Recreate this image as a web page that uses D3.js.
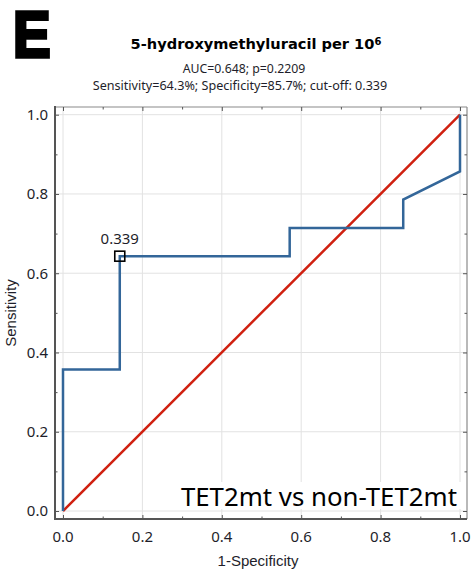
<!DOCTYPE html>
<html>
<head>
<meta charset="utf-8">
<script src="https://cdn.jsdelivr.net/npm/d3@7"></script>
<style>
  html, body { margin: 0; padding: 0; background: #fff; }
  svg { display: block; }
</style>
</head>
<body>
<svg id="chart" width="473" height="571"></svg>
<script>
// ROC curve points (1-Specificity, Sensitivity)
const rocFpr = [0, 0, 0.143, 0.143, 0.571, 0.571, 0.857, 0.857, 1, 1];
const rocTpr = [0, 0.357, 0.357, 0.643, 0.643, 0.714, 0.714, 0.786, 0.857, 1];
// Reference (chance) line
const refFpr = [0, 1];
const refTpr = [0, 1];
// Optimal cut-off point
const cutFpr = [0.143];
const cutTpr = [0.643];
const cutLabels = ["0.339"];
// Axis ticks
const majorTicks = [0, 0.2, 0.4, 0.6, 0.8, 1.0];
const minorTicks = [0.1, 0.3, 0.5, 0.7, 0.9];
const tickLabels = ["0.0", "0.2", "0.4", "0.6", "0.8", "1.0"];

const svg = d3.select("#chart");
const frame = { left: 55, right: 467, top: 107, bottom: 519 };

const x = d3.scaleLinear().domain([0, 1]).range([63, 460]);
const y = d3.scaleLinear().domain([0, 1]).range([511, 114.7]);

const textCol = "#1e1e2a";

// Panel letter
svg.append("text")
  .attr("transform", "translate(13,57) scale(0.88,1)")
  .attr("font-family", "Liberation Sans, Arial, sans-serif")
  .attr("font-weight", "bold").attr("font-size", 64)
  .attr("fill", "#000").attr("stroke", "#000").attr("stroke-width", 3.5)
  .text("E");

// Title with superscript
const title = svg.append("text")
  .attr("x", 256).attr("y", 49)
  .attr("text-anchor", "middle")
  .attr("font-family", "DejaVu Sans, Verdana, sans-serif")
  .attr("font-weight", "bold").attr("font-size", 14.6)
  .attr("fill", "#000");
title.append("tspan").text("5-hydroxymethyluracil per 10");
title.append("tspan").attr("font-size", 10).attr("dy", -4).text("6");

svg.append("text")
  .attr("x", 244).attr("y", 73)
  .attr("text-anchor", "middle")
  .attr("font-family", "Noto Sans, sans-serif").attr("font-size", 12.3)
  .attr("fill", textCol)
  .text("AUC=0.648; p=0.2209");
svg.append("text")
  .attr("x", 240).attr("y", 90)
  .attr("text-anchor", "middle")
  .attr("font-family", "Noto Sans, sans-serif").attr("font-size", 12.6)
  .attr("fill", textCol)
  .text("Sensitivity=64.3%; Specificity=85.7%; cut-off: 0.339");

// Grid
const grid = svg.append("g").attr("stroke", "#e2e2e2").attr("stroke-width", 1);
grid.selectAll("line.gx").data(majorTicks).join("line")
  .attr("x1", d => x(d)).attr("x2", d => x(d))
  .attr("y1", frame.top).attr("y2", frame.bottom);
grid.selectAll("line.gy").data(majorTicks).join("line")
  .attr("y1", d => y(d)).attr("y2", d => y(d))
  .attr("x1", frame.left).attr("x2", frame.right);

// Frame: light top/right, dark left/bottom axes
svg.append("line").attr("x1", frame.left).attr("x2", frame.right)
  .attr("y1", frame.top).attr("y2", frame.top)
  .attr("stroke", "#8a8a8a").attr("stroke-width", 1.2);
svg.append("line").attr("x1", frame.right).attr("x2", frame.right)
  .attr("y1", frame.top).attr("y2", frame.bottom)
  .attr("stroke", "#8a8a8a").attr("stroke-width", 1.2);

// Inward ticks via d3 axes
function tickAxis(axisFn, scale, vals, size, transform) {
  const g = svg.append("g").attr("transform", transform)
    .call(axisFn(scale).tickValues(vals).tickSize(size).tickFormat(""));
  g.select(".domain").remove();
  g.selectAll(".tick line").attr("stroke", "#555").attr("stroke-width", 1);
  return g;
}
tickAxis(d3.axisTop, x, majorTicks, -4, `translate(0,${frame.top})`);
tickAxis(d3.axisTop, x, minorTicks, -2.5, `translate(0,${frame.top})`);
tickAxis(d3.axisBottom, x, majorTicks, -4, `translate(0,${frame.bottom})`);
tickAxis(d3.axisBottom, x, minorTicks, -2.5, `translate(0,${frame.bottom})`);
tickAxis(d3.axisLeft, y, majorTicks, -4, `translate(${frame.left},0)`);
tickAxis(d3.axisLeft, y, minorTicks, -2.5, `translate(${frame.left},0)`);
tickAxis(d3.axisRight, y, majorTicks, -4, `translate(${frame.right},0)`);
tickAxis(d3.axisRight, y, minorTicks, -2.5, `translate(${frame.right},0)`);

svg.append("line").attr("x1", frame.left).attr("x2", frame.left)
  .attr("y1", frame.top - 1).attr("y2", frame.bottom + 1)
  .attr("stroke", "#555").attr("stroke-width", 2);
svg.append("line").attr("x1", frame.left - 1).attr("x2", frame.right)
  .attr("y1", frame.bottom).attr("y2", frame.bottom)
  .attr("stroke", "#555").attr("stroke-width", 2);

// Tick labels
svg.append("g").selectAll("text").data(majorTicks).join("text")
  .attr("x", 48).attr("y", d => y(d)).attr("dy", "0.36em")
  .attr("text-anchor", "end")
  .attr("font-family", "Noto Sans, sans-serif").attr("font-size", 15)
  .attr("fill", textCol)
  .text((d, i) => tickLabels[i]);
svg.append("g").selectAll("text").data(majorTicks).join("text")
  .attr("x", d => x(d)).attr("y", 542)
  .attr("text-anchor", "middle")
  .attr("font-family", "Noto Sans, sans-serif").attr("font-size", 15)
  .attr("fill", textCol)
  .text((d, i) => tickLabels[i]);

// Axis titles
svg.append("text")
  .attr("x", 258).attr("y", 566)
  .attr("text-anchor", "middle")
  .attr("font-family", "Liberation Sans, Arial, sans-serif").attr("font-size", 15)
  .attr("fill", textCol)
  .text("1-Specificity");
svg.append("text")
  .attr("transform", `translate(16,${(frame.top + frame.bottom) / 2}) rotate(-90)`)
  .attr("text-anchor", "middle")
  .attr("font-family", "Liberation Sans, Arial, sans-serif").attr("font-size", 15)
  .attr("fill", textCol)
  .text("Sensitivity");

// Chance line
svg.append("path")
  .datum(d3.zip(refFpr, refTpr))
  .attr("d", d3.line().x(d => x(d[0])).y(d => y(d[1])))
  .attr("fill", "none").attr("stroke", "#d02010").attr("stroke-width", 2.5);

// ROC curve
svg.append("path")
  .datum(d3.zip(rocFpr, rocTpr))
  .attr("d", d3.line().x(d => x(d[0])).y(d => y(d[1])))
  .attr("fill", "none").attr("stroke", "#336699").attr("stroke-width", 2.5)
  .attr("stroke-linejoin", "miter");

// Cut-off marker and label
const cut = d3.zip(cutFpr, cutTpr, cutLabels);
svg.append("g").selectAll("rect").data(cut).join("rect")
  .attr("x", d => x(d[0]) - 5).attr("y", d => y(d[1]) - 5)
  .attr("width", 10).attr("height", 10)
  .attr("fill", "none").attr("stroke", "#000").attr("stroke-width", 1.6);
svg.append("g").selectAll("text").data(cut).join("text")
  .attr("x", d => x(d[0])).attr("y", d => y(d[1]) - 12)
  .attr("text-anchor", "middle")
  .attr("font-family", "Noto Sans, sans-serif").attr("font-size", 15)
  .attr("fill", textCol)
  .text(d => d[2]);

// Group comparison label
svg.append("rect")
  .attr("x", 176).attr("y", 482).attr("width", 287).attr("height", 27)
  .attr("fill", "#fff");
svg.append("text")
  .attr("x", 457).attr("y", 506)
  .attr("text-anchor", "end")
  .attr("font-family", "Noto Sans, sans-serif").attr("font-size", 25.8)
  .attr("fill", "#000")
  .text("TET2mt vs non-TET2mt");
</script>
</body>
</html>
